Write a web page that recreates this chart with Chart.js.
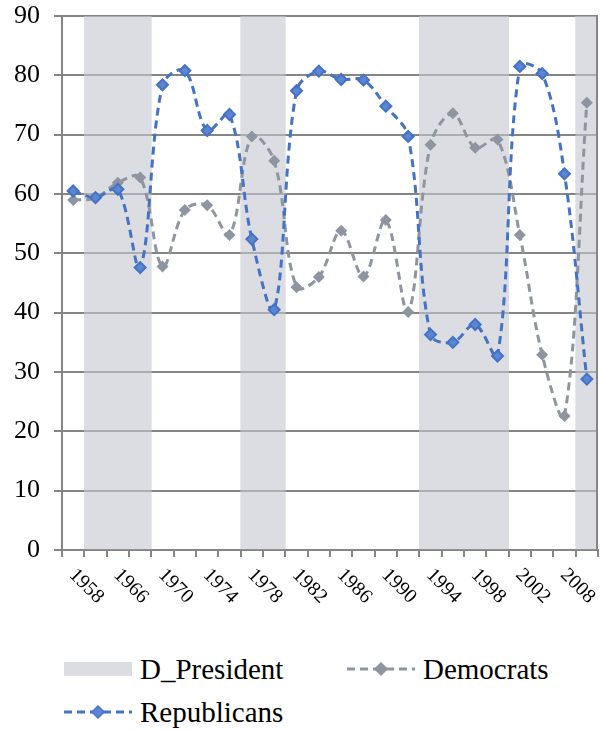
<!DOCTYPE html>
<html>
<head>
<meta charset="utf-8">
<script src="https://cdn.jsdelivr.net/npm/chart.js@4/dist/chart.umd.min.js"></script>
<style>
  html, body { margin: 0; padding: 0; background: #fff; }
  #wrap { position: relative; width: 600px; height: 731px; }
  #chart { position: absolute; left: 0; top: 0; }
  #legend { position: absolute; left: 0; top: 640px; }
</style>
</head>
<body>
<div id="wrap">
  <canvas id="chart" width="600" height="640"></canvas>
  <svg id="legend" width="600" height="91" xmlns="http://www.w3.org/2000/svg"></svg>
</div>
<script>
// election years (every other one is labelled on the axis)
const YEARS = [
  "1958", "1962", "1966", "1968", "1970", "1972", "1974", "1976",
  "1978", "1980", "1982", "1984", "1986", "1988", "1990", "1992",
  "1994", "1996", "1998", "2000", "2002", "2004", "2008", "2010",
];
const TICK_LABELS = ["1958", "1966", "1970", "1974", "1978", "1982",
  "1986", "1990", "1994", "1998", "2002", "2008"];

// 90 where a Democrat held the presidency, otherwise empty
const D_PRESIDENT = [
  null, 90, 90, 90, null, null, null, null,
  90, 90, null, null, null, null, null, null,
  90, 90, 90, 90, null, null, null, 90,
];

const DEMOCRATS = [
  59.0, 59.3, 61.9, 62.8, 47.8, 57.3, 58.1, 53.1,
  69.7, 65.6, 44.3, 46.0, 53.8, 46.1, 55.6, 40.1,
  68.3, 73.6, 67.8, 69.2, 53.1, 32.9, 22.6, 75.4,
];

const REPUBLICANS = [
  60.5, 59.4, 60.8, 47.6, 78.4, 80.8, 70.7, 73.4,
  52.4, 40.5, 77.4, 80.7, 79.3, 79.2, 74.8, 69.7,
  36.3, 35.0, 38.0, 32.7, 81.5, 80.3, 63.4, 28.8,
];

const Y_MAX = 90;
const Y_STEP = 10;

const AXIS_GRAY = "#858585";
const BAND_COLOR = "#dcdde2";
const DEM_COLOR = "#8e95a0";
const REP_COLOR = "#4472c4";
const REP_FILL = "#5b86d4";
const SERIF = "'Liberation Serif', Tinos, 'Times New Roman', Times, 'DejaVu Serif', 'Noto Serif', serif";

// gridlines show faintly through the shaded bands, as in the spreadsheet:
// repaint them half transparent right after the bars
const gridThroughBands = {
  id: "gridThroughBands",
  afterDatasetDraw(chart, args) {
    if (chart.data.datasets[args.index].type !== "bar") return;
    const { ctx, chartArea } = chart;
    const y = chart.scales.y;
    ctx.save();
    ctx.globalAlpha = 0.55;
    ctx.strokeStyle = AXIS_GRAY;
    ctx.lineWidth = 2;
    y.ticks.forEach((t) => {
      const py = Math.round(y.getPixelForValue(t.value));
      ctx.beginPath();
      ctx.moveTo(chartArea.left, py);
      ctx.lineTo(chartArea.right, py);
      ctx.stroke();
    });
    ctx.restore();
  },
};

// x labels are rotated clockwise, which chart.js won't do by itself;
// also draws the right-hand frame line of the plot area
const slantedLabels = {
  id: "slantedLabels",
  afterDraw(chart) {
    const { ctx, chartArea } = chart;
    const x = chart.scales.x;
    ctx.save();
    ctx.strokeStyle = AXIS_GRAY;
    ctx.lineWidth = 2;
    ctx.beginPath();
    ctx.moveTo(chartArea.right - 1, chartArea.top - 1);
    ctx.lineTo(chartArea.right - 1, chartArea.bottom);
    ctx.stroke();

    const y0 = x.top + 22;
    ctx.fillStyle = "#000";
    ctx.font = "20px " + SERIF;
    ctx.textAlign = "left";
    ctx.textBaseline = "middle";
    TICK_LABELS.forEach((label, i) => {
      const px = x.getPixelForValue(i * 2);
      ctx.save();
      ctx.translate(px - 1, y0);
      ctx.rotate(Math.PI / 4);
      ctx.fillText(label, 0, 0);
      ctx.restore();
    });
    ctx.restore();
  },
};

const chart = new Chart(document.getElementById("chart"), {
  data: {
    labels: YEARS,
    datasets: [
      {
        type: "line",
        label: "Republicans",
        data: REPUBLICANS,
        borderColor: REP_COLOR,
        borderWidth: 3,
        borderDash: [8, 5],
        tension: 0.35,
        pointStyle: "rectRot",
        pointRadius: 5.5,
        pointBorderWidth: 2,
        pointBackgroundColor: REP_FILL,
        pointBorderColor: REP_COLOR,
        order: 1,
      },
      {
        type: "line",
        label: "Democrats",
        data: DEMOCRATS,
        borderColor: DEM_COLOR,
        borderWidth: 3,
        borderDash: [8, 5],
        tension: 0.35,
        pointStyle: "rectRot",
        pointRadius: 6,
        pointBorderWidth: 0,
        pointBackgroundColor: DEM_COLOR,
        order: 2,
      },
      {
        type: "bar",
        label: "D_President",
        data: D_PRESIDENT,
        backgroundColor: BAND_COLOR,
        barPercentage: 1,
        categoryPercentage: 1,
        order: 3,
      },
    ],
  },
  options: {
    responsive: false,
    animation: false,
    layout: {
      autoPadding: false,
      padding: { top: 16, right: 2, left: 0, bottom: 0 },
    },
    scales: {
      x: {
        type: "category",
        offset: true,
        grid: {
          offset: true,
          drawOnChartArea: false,
          drawTicks: true,
          tickLength: 7,
          color: AXIS_GRAY,
          lineWidth: 2,
        },
        border: { color: AXIS_GRAY, width: 2 },
        ticks: { display: false },
        afterFit: (s) => {
          s.height = 90;
          s.paddingLeft = 0;
          s.paddingRight = 0;
        },
      },
      y: {
        min: 0,
        max: Y_MAX,
        ticks: {
          stepSize: Y_STEP,
          color: "#000",
          padding: 14,
          font: { family: SERIF, size: 26 },
        },
        grid: { color: AXIS_GRAY, lineWidth: 2, tickLength: 8 },
        border: { color: AXIS_GRAY, width: 2 },
        afterFit: (s) => {
          s.width = 62;
          s.paddingTop = 0;
          s.paddingBottom = 0;
        },
      },
    },
    plugins: {
      legend: { display: false },
      tooltip: { enabled: false },
    },
  },
  plugins: [gridThroughBands, slantedLabels],
});

// legend laid out like the spreadsheet one: two entries on the first row
function buildLegend() {
  const svg = document.getElementById("legend");
  const ns = "http://www.w3.org/2000/svg";
  const entries = [
    { label: "D_President", kind: "box", x: 64, y: 29 },
    { label: "Democrats", kind: "line", color: DEM_COLOR, fill: DEM_COLOR, x: 347, y: 29 },
    { label: "Republicans", kind: "line", color: REP_COLOR, fill: REP_FILL, x: 64, y: 72 },
  ];
  entries.forEach((e) => {
    if (e.kind === "box") {
      const r = document.createElementNS(ns, "rect");
      r.setAttribute("x", e.x);
      r.setAttribute("y", e.y - 7);
      r.setAttribute("width", 68);
      r.setAttribute("height", 14);
      r.setAttribute("fill", BAND_COLOR);
      svg.appendChild(r);
    } else {
      const l = document.createElementNS(ns, "line");
      l.setAttribute("x1", e.x);
      l.setAttribute("x2", e.x + 68);
      l.setAttribute("y1", e.y);
      l.setAttribute("y2", e.y);
      l.setAttribute("stroke", e.color);
      l.setAttribute("stroke-width", 3);
      l.setAttribute("stroke-dasharray", "8 5");
      svg.appendChild(l);
      const cx = e.x + 34;
      const d = document.createElementNS(ns, "polygon");
      d.setAttribute("points", `${cx},${e.y - 6} ${cx + 6},${e.y} ${cx},${e.y + 6} ${cx - 6},${e.y}`);
      d.setAttribute("fill", e.fill);
      d.setAttribute("stroke", e.color);
      d.setAttribute("stroke-width", 1.5);
      svg.appendChild(d);
    }
    const t = document.createElementNS(ns, "text");
    t.setAttribute("x", e.x + 76);
    t.setAttribute("y", e.y + 10);
    t.setAttribute("font-family", SERIF);
    t.setAttribute("font-size", 29);
    t.setAttribute("fill", "#000");
    t.textContent = e.label;
    svg.appendChild(t);
  });
}
buildLegend();
</script>
</body>
</html>
